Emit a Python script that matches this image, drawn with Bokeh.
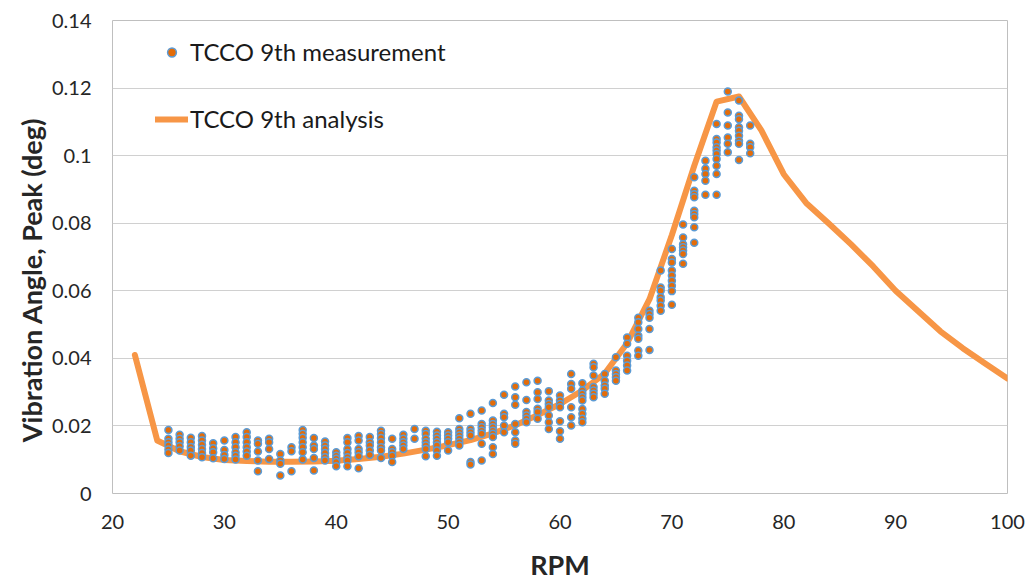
from bokeh.plotting import figure
from bokeh.models import FixedTicker, CustomJSTickFormatter, Legend, LegendItem
from bokeh.embed import file_html
from bokeh.resources import INLINE

# ---- data ----
meas_rpm_levels = list(range(25, 78))
meas_values = [
    [0.0188, 0.0162, 0.0152, 0.0142, 0.0130, 0.0120],            # 25
    [0.0174, 0.0162, 0.0152, 0.0140, 0.0127],                    # 26
    [0.0165, 0.0152, 0.0138, 0.0127, 0.0112],                    # 27
    [0.0170, 0.0157, 0.0144, 0.0132, 0.0120, 0.0107],            # 28
    [0.0149, 0.0134, 0.0122, 0.0104],                            # 29
    [0.0157, 0.0129, 0.0114, 0.0102],                            # 30
    [0.0167, 0.0152, 0.0137, 0.0122, 0.0112, 0.0101],            # 31
    [0.0181, 0.0167, 0.0152, 0.0137, 0.0124, 0.0112],            # 32
    [0.0157, 0.0147, 0.0124, 0.0098, 0.0066],                    # 33
    [0.0162, 0.0152, 0.0132, 0.0102],                            # 34
    [0.0117, 0.0098, 0.0088, 0.0053],                            # 35
    [0.0137, 0.0125, 0.0066],                                    # 36
    [0.0188, 0.0177, 0.0165, 0.0152, 0.0137, 0.0122, 0.0101],    # 37
    [0.0164, 0.0142, 0.0132, 0.0105, 0.0068],                    # 38
    [0.0154, 0.0142, 0.0132, 0.0120, 0.0107, 0.0098],            # 39
    [0.0122, 0.0112, 0.0103, 0.0093, 0.0081],                    # 40
    [0.0164, 0.0152, 0.0132, 0.0120, 0.0107, 0.0098, 0.0081],    # 41
    [0.0170, 0.0157, 0.0132, 0.0122, 0.0110, 0.0075],            # 42
    [0.0167, 0.0152, 0.0142, 0.0127, 0.0114],                    # 43
    [0.0186, 0.0176, 0.0164, 0.0152, 0.0137, 0.0127, 0.0105],    # 44
    [0.0162, 0.0132, 0.0122, 0.0112, 0.0093],                    # 45
    [0.0174, 0.0162, 0.0152, 0.0142, 0.0132],                    # 46
    [0.0191, 0.0162],                                            # 47
    [0.0186, 0.0176, 0.0162, 0.0152, 0.0142, 0.0132, 0.0110],    # 48
    [0.0183, 0.0172, 0.0162, 0.0152, 0.0142, 0.0127, 0.0112],    # 49
    [0.0181, 0.0172, 0.0162, 0.0152, 0.0127],                    # 50
    [0.0223, 0.0191, 0.0181, 0.0172, 0.0162, 0.0152, 0.0142],    # 51
    [0.0236, 0.0191, 0.0181, 0.0172, 0.0093, 0.0086],            # 52
    [0.0246, 0.0206, 0.0196, 0.0186, 0.0177, 0.0147, 0.0098],    # 53
    [0.0268, 0.0216, 0.0206, 0.0196, 0.0186, 0.0177, 0.0167, 0.0137, 0.0117],  # 54
    [0.0292, 0.0236, 0.0226, 0.0201, 0.0181],                    # 55
    [0.0317, 0.0285, 0.0263, 0.0206, 0.0181, 0.0157, 0.0147],    # 56
    [0.0329, 0.0277, 0.0241, 0.0231, 0.0221, 0.0211],            # 57
    [0.0334, 0.0300, 0.0280, 0.0251, 0.0241, 0.0221],            # 58
    [0.0303, 0.0275, 0.0265, 0.0255, 0.0231, 0.0211, 0.0191],    # 59
    [0.0290, 0.0275, 0.0265, 0.0255, 0.0214, 0.0184, 0.0162],    # 60
    [0.0354, 0.0324, 0.0310, 0.0255, 0.0226, 0.0201],            # 61
    [0.0326, 0.0305, 0.0295, 0.0285, 0.0275, 0.0250, 0.0236, 0.0221, 0.0211],  # 62
    [0.0384, 0.0374, 0.0349, 0.0315, 0.0305, 0.0295, 0.0285],    # 63
    [0.0354, 0.0334, 0.0320, 0.0310, 0.0295],                    # 64
    [0.0403, 0.0364, 0.0354, 0.0344, 0.0334],                    # 65
    [0.0462, 0.0443, 0.0408, 0.0393, 0.0379, 0.0364],            # 66
    [0.0520, 0.0507, 0.0487, 0.0467, 0.0458, 0.0423, 0.0408],    # 67
    [0.0541, 0.0531, 0.0520, 0.0487, 0.0425],                    # 68
    [0.0660, 0.0610, 0.0600, 0.0581, 0.0571, 0.0556, 0.0541],    # 69
    [0.0724, 0.0694, 0.0684, 0.0660, 0.0645, 0.0630, 0.0615, 0.0599, 0.0559],  # 70
    [0.0796, 0.0758, 0.0738, 0.0729, 0.0719, 0.0709, 0.0680],    # 71
    [0.0936, 0.0896, 0.0886, 0.0877, 0.0837, 0.0827, 0.0818, 0.0788, 0.0742],  # 72
    [0.0985, 0.0961, 0.0946, 0.0926, 0.0884],                    # 73
    [0.1094, 0.1049, 0.1039, 0.1025, 0.1015, 0.1005, 0.0990, 0.0970, 0.0946, 0.0884],  # 74
    [0.1190, 0.1128, 0.1089, 0.1054, 0.1035, 0.1010],            # 75
    [0.1163, 0.1118, 0.1108, 0.1084, 0.1074, 0.1059, 0.1044, 0.1035, 0.0987],  # 76
    [0.1089, 0.1035, 0.1025, 0.1007],                            # 77
]

analysis_rpm = [22, 24, 26, 28, 30, 32, 34, 36, 38, 40, 42, 44, 46, 48, 50,
                52, 54, 56, 58, 60, 62, 64, 66, 68, 70, 72, 74, 76, 78, 80,
                82, 84, 86, 88, 90, 92, 94, 96, 98, 100]
analysis_val = [0.0410, 0.0157, 0.0125, 0.0108, 0.0099, 0.0096, 0.0094, 0.0094,
                0.0095, 0.0097, 0.0102, 0.0109, 0.0118, 0.0130, 0.0143, 0.0158,
                0.0178, 0.0202, 0.0232, 0.0265, 0.0305, 0.0355, 0.0445, 0.0575,
                0.0765, 0.0970, 0.1160, 0.1175, 0.1075, 0.0945, 0.0860, 0.0800,
                0.0738, 0.0672, 0.0600, 0.0540, 0.0480, 0.0430, 0.0385, 0.0340]

x_ticks = [20, 30, 40, 50, 60, 70, 80, 90, 100]
y_ticks = [0, 0.02, 0.04, 0.06, 0.08, 0.1, 0.12, 0.14]

meas_rpm = []
meas_val = []
for r, vals in zip(meas_rpm_levels, meas_values):
    for v in vals:
        meas_rpm.append(r)
        meas_val.append(v)

FONT = "Lato"

p = figure(width=1034, height=584, x_range=(20, 100), y_range=(0, 0.14),
           output_backend="svg", toolbar_location=None,
           min_border_left=112, min_border_right=27, min_border_top=20,
           min_border_bottom=91)

p.background_fill_color = "white"
p.border_fill_color = "white"
p.outline_line_color = "#BFBFBF"
p.outline_line_width = 1

p.xgrid.grid_line_color = None
p.ygrid.grid_line_color = "#D0D0D0"
p.ygrid.grid_line_width = 1

line_r = p.line(analysis_rpm, analysis_val, line_color="#F79646", line_width=6,
                line_join="round", line_cap="round")
sc_r = p.scatter(meas_rpm, meas_val, size=7, fill_color="#E36C09",
                 line_color="#5B9BD5", line_width=1.5)

for ax in (p.xaxis[0], p.yaxis[0]):
    ax.axis_line_color = None
    ax.major_tick_line_color = None
    ax.minor_tick_line_color = None
    ax.major_tick_out = 0
    ax.major_tick_in = 0
    ax.major_label_text_font = FONT
    ax.major_label_text_font_size = "20px"
    ax.major_label_text_color = "#262626"
    ax.axis_label_text_font = FONT
    ax.axis_label_text_font_style = "bold"
    ax.axis_label_text_font_size = "27px"
    ax.axis_label_text_color = "#262626"

p.xaxis.ticker = FixedTicker(ticks=x_ticks)
p.yaxis.ticker = FixedTicker(ticks=y_ticks)
p.yaxis.formatter = CustomJSTickFormatter(code="return parseFloat(tick.toFixed(2)).toString();")
p.xaxis.axis_label = "RPM"
p.xaxis.major_label_standoff = 21
p.xaxis.axis_label_standoff = 16
p.yaxis.major_label_standoff = 21
# trailing no-break spaces shift the visible title slightly downward, as in the original
p.yaxis.axis_label = "Vibration Angle, Peak (deg)" + "\u00a0" * 7
p.yaxis.axis_label_standoff = 1

legend = Legend(items=[LegendItem(label="TCCO 9th measurement", renderers=[sc_r]),
                       LegendItem(label="TCCO 9th analysis", renderers=[line_r])],
                location=(43, 360))
legend.background_fill_alpha = 0
legend.border_line_alpha = 0
legend.padding = 0
legend.margin = 0
legend.spacing = 38
legend.glyph_width = 33
legend.glyph_height = 22
legend.label_height = 22
legend.label_standoff = 2
legend.label_text_font = FONT
legend.label_text_font_size = "24px"
legend.label_text_color = "#1a1a1a"
p.add_layout(legend)

open("out.html", "w").write(file_html(p, INLINE))
